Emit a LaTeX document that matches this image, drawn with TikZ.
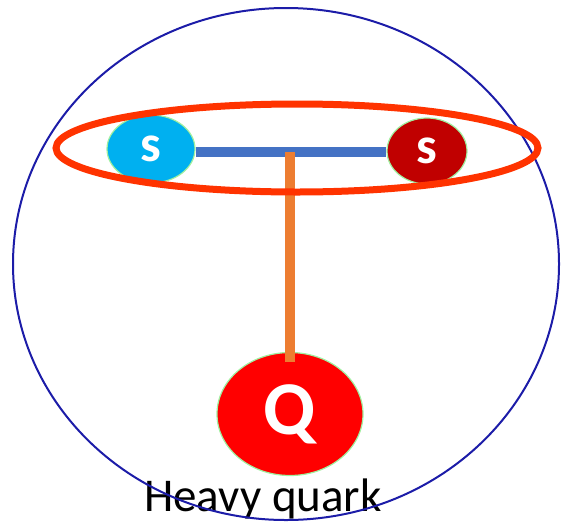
\documentclass[tikz,border=0pt]{standalone}
\usepackage{fontspec}
\setmainfont{Carlito}
\usetikzlibrary{shapes.geometric, positioning, calc}

\definecolor{quarkcyan}{HTML}{00B0F0}
\definecolor{quarkdark}{HTML}{C00000}
\definecolor{barblue}{HTML}{4472C4}
\definecolor{barorange}{HTML}{ED7D31}
\definecolor{ringred}{HTML}{FF3300}
\definecolor{hadronblue}{HTML}{1C1CA8}
\definecolor{rimgreen}{HTML}{A0F0A0}

\tikzset{
    quark/.style={ellipse, draw=rimgreen, line width=1.2pt, inner sep=0pt, text=white, font=\bfseries},
    link/.style={line width=10pt},
}

\begin{document}
\begin{tikzpicture}[x=1pt, y=-1pt]
    \useasboundingbox (0,0) rectangle (561,522);

    \node[font=\fontsize{47}{47}\selectfont, anchor=base, inner sep=0pt] (label) at (263,511) {Heavy quark};
    \draw[hadronblue, line width=2pt] (286,264) ellipse [x radius=273pt, y radius=256pt];

    \node[quark, fill=quarkcyan, minimum width=88pt, minimum height=68pt, font=\bfseries\fontsize{52}{52}\selectfont] (sl) at (151,149) {s};
    \node[quark, fill=quarkdark, minimum width=80pt, minimum height=66pt, font=\bfseries\fontsize{52}{52}\selectfont] (sr) at (427,151) {s};
    \node[quark, fill=red, minimum width=146pt, minimum height=123pt, font=\bfseries\fontsize{76}{76}\selectfont] (Q) at (290,414) {Q};

    \draw[link, barblue] (sl.east |- 0,152) -- (sr.west |- 0,152);
    \coordinate (joint) at (290,152);
    \draw[link, barorange, line cap=butt] (joint) -- ($(Q.north)+(0,10)$);

    \draw[ringred, line width=7pt] (297,148) ellipse [x radius=241pt, y radius=44pt];
\end{tikzpicture}
\end{document}
